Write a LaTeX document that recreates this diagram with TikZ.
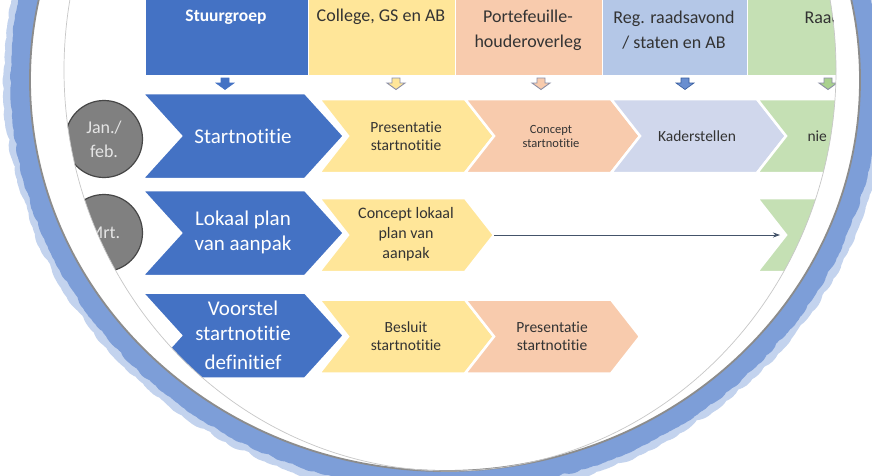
\documentclass[tikz,border=0pt]{standalone}
\usepackage{fontspec}
\setmainfont{Carlito}[Ligatures={NoCommon,NoContextual}]
\usetikzlibrary{decorations.pathmorphing,arrows.meta}
\definecolor{cblue}{HTML}{4472C4}
\definecolor{cyellow}{HTML}{FFE699}
\definecolor{csalmon}{HTML}{F8CBAD}
\definecolor{clblue}{HTML}{B4C7E7}
\definecolor{clav}{HTML}{D0D7EC}
\definecolor{cgreen}{HTML}{C5E0B4}
\definecolor{cgreenA}{HTML}{A9D18E}
\definecolor{ringblue}{HTML}{7D9ED8}
\definecolor{ringlight}{HTML}{C3D3EE}
\definecolor{txtdark}{HTML}{333333}
\definecolor{arrgray}{HTML}{8C8FA6}
\definecolor{connc}{HTML}{44546A}
\newcommand{\mychev}[6]{% style, x0, yc, w, d, h
  \filldraw[#1] ({#2},{#3-#6}) -- ({#2+#4},{#3-#6}) -- ({#2+#4+#5},{#3}) -- ({#2+#4},{#3+#6}) -- ({#2},{#3+#6}) -- ({#2+#5},{#3}) -- cycle;}
\newcommand{\hdarrow}[2]{% style, x
  \filldraw[#1] ({#2-4},78) -- ({#2+4},78) -- ({#2+4},83) -- ({#2+9},83) -- ({#2},89.5) -- ({#2-9},83) -- ({#2-4},83) -- cycle;}
\newcommand{\platepath}{(445,80) ellipse [x radius=415, y radius=391]}
\newcommand{\clippath}{(450,70) ellipse [x radius=386, y radius=401]}
\begin{document}
\begin{tikzpicture}[x=1pt,y=-1pt,
  chevB/.style={fill=cblue,draw=white,line width=2.5pt,line join=miter},
  chevY/.style={fill=cyellow,draw=white,line width=2.5pt,line join=miter},
  chevS/.style={fill=csalmon,draw=white,line width=2.5pt,line join=miter},
  chevL/.style={fill=clav,draw=white,line width=2.5pt,line join=miter},
  chevG/.style={fill=cgreen,draw=white,line width=2.5pt,line join=miter},
  hdr/.style={draw=white,line width=0.8pt},
  bigtxt/.style={text=white,align=center,font=\fontsize{21}{25}\selectfont},
  midtxt/.style={text=txtdark,align=center,font=\fontsize{15.5}{18}\selectfont},
  smalltxt/.style={text=txtdark,align=center,font=\fontsize{12.5}{14}\selectfont},
  hdrtxt/.style={text=txtdark,align=center,font=\fontsize{18}{25}\selectfont},
  graycirc/.style={circle,minimum size=77pt,inner sep=0pt,fill=black!50,draw=black!72,line width=1.2pt,
     text=black!10,align=center,font=\fontsize{18}{24}\selectfont},
  conn/.style={draw=connc,line width=0.8pt,-{Stealth[length=7pt,width=5pt]}}
]
\useasboundingbox (0,0) rectangle (872,475);
\fill[white] (0,0) rectangle (872,475);
% watercolour ring
\draw[ringlight,line width=50pt,line join=round,decorate,decoration={random steps,segment length=3pt,amplitude=3pt}] \platepath;
\draw[ringblue,line width=38pt,line join=round,decorate,decoration={random steps,segment length=3pt,amplitude=1.5pt}] \platepath;
% plate
\fill[white] \platepath;
\draw[black!45,line width=1.8pt] \platepath;

\begin{scope}
\clip \clippath;
% headers
\filldraw[hdr,fill=cblue]   (145,-10) rectangle (308,75);
\filldraw[hdr,fill=cyellow] (308,-10) rectangle (455,75);
\filldraw[hdr,fill=csalmon] (455,-10) rectangle (602,75);
\filldraw[hdr,fill=clblue]  (602,-10) rectangle (747,75);
\filldraw[hdr,fill=cgreen]  (747,-10) rectangle (900,75);
\node[text=white,font=\bfseries\fontsize{17.5}{22}\selectfont] (h1) at (226,17) {Stuurgroep};
\node[hdrtxt] (h2) at (381,17) {College, GS en AB};
\node[hdrtxt] (h3) at (528,30) {Portefeuille-\\houderoverleg};
\node[hdrtxt] (h4) at (674,30) {Reg. raadsavond\\/ staten en AB};
\node[hdrtxt,anchor=west] (h5) at (801,17) {Raad};
% small arrows
\hdarrow{fill=cblue,draw=cblue,line width=0.6pt}{225}
\hdarrow{fill=cyellow,draw=arrgray,line width=0.9pt}{396}
\hdarrow{fill=csalmon,draw=arrgray,line width=0.9pt}{541}
\hdarrow{fill=cblue!80,draw=cblue!80!black,line width=0.6pt}{685}
\hdarrow{fill=cgreenA,draw=arrgray,line width=0.9pt}{828}
% row 1
\mychev{chevB}{142}{136}{163}{39}{43}
\mychev{chevY}{319}{136}{146}{29}{37}
\mychev{chevS}{465}{136}{146}{29}{37}
\mychev{chevL}{611}{136}{146}{29}{37}
\mychev{chevG}{757}{136}{146}{29}{37}
\node[bigtxt] (t11) at (243,136) {Startnotitie};
\node[midtxt] (t12) at (406,136) {Presentatie\\startnotitie};
\node[smalltxt] (t13) at (551,136) {Concept\\startnotitie};
\node[midtxt] (t14) at (697,136) {Kaderstellen};
\node[midtxt,anchor=west] (t15) at (804,136) {nie};
% row 2
\mychev{chevB}{142}{233}{163}{39}{43}
\mychev{chevY}{319}{235}{146}{29}{37}
\mychev{chevG}{757}{235}{146}{29}{37}
\node[bigtxt] (t21) at (243,232) {Lokaal plan\\van aanpak};
\node[midtxt,font=\fontsize{16}{20}\selectfont] (t22) at (406,234) {Concept lokaal\\plan van\\aanpak};
\coordinate (r2tip) at (494,235);
\coordinate (r2end) at (780,235);
\draw[conn] (r2tip) -- (r2end);
% row 3
\mychev{chevB}{142}{335.5}{163}{39}{43}
\mychev{chevY}{319}{336.5}{146}{29}{37}
\mychev{chevS}{465}{336.5}{146}{29}{37}
\node[bigtxt] (t31) at (243,335) {Voorstel\\startnotitie\\[4pt]definitief};
\node[midtxt] (t32) at (406,336.5) {Besluit\\startnotitie};
\node[midtxt] (t33) at (552,336.5) {Presentatie\\startnotitie};
% month circles
\node[graycirc] (c1) at (104,139) {Jan./\\feb.};
\node[graycirc] (c2) at (104,233) {Mrt.};
\end{scope}
\draw[black!22,line width=0.7pt] \clippath;
\end{tikzpicture}
\end{document}
